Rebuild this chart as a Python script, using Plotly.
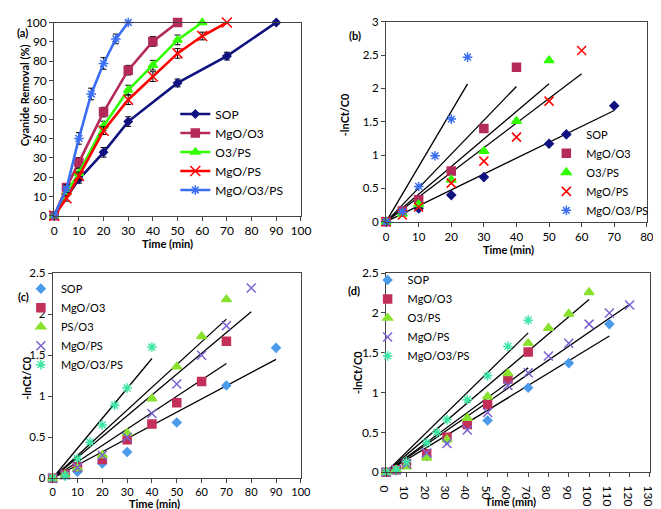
import plotly.graph_objects as go

W, H = 661, 509
def fx(p): return p / W
def fy(p): return 1 - p / H

names_ab = ["SOP", "MgO/O3", "O3/PS", "MgO/PS", "MgO/O3/PS"]
names_c = ["SOP", "MgO/O3", "PS/O3", "MgO/PS", "MgO/O3/PS"]
names_d = ["SOP", "MgO/O3", "O3/PS", "MgO/PS", "MgO/O3/PS"]

# ---- Panel (a): cyanide removal (%) ----
a_x = [
    [0, 10, 20, 30, 50, 70, 90],
    [0, 5, 10, 20, 30, 40, 50],
    [0, 5, 10, 20, 30, 40, 50, 60],
    [0, 5, 10, 20, 30, 40, 50, 60, 70],
    [0, 5, 10, 15, 20, 25, 30],
]
a_y = [
    [0, 18.8, 32.8, 48.7, 68.7, 82.6, 100],
    [0, 14.6, 27.6, 53.6, 75.3, 90.2, 100],
    [0, 12, 22, 46.4, 65.0, 77.9, 91, 100],
    [0, 9, 20.5, 44.0, 60.0, 72.0, 84, 93, 100],
    [0, 14, 40, 63.0, 78.8, 91.5, 100],
]
a_err = [
    [0, 2, 2.5, 2.5, 2, 2, 1],
    [0, 2, 2.5, 2.5, 2.5, 2.5, 0],
    [0, 2, 2.5, 2.5, 2.5, 2.5, 2.5, 0],
    [0, 1.5, 2, 2, 2.5, 2.5, 2.5, 2, 0],
    [0, 2, 3, 3, 3, 2.5, 0],
]

# ---- Panel (b) ----
b_x = [
    [0, 5, 10, 20, 30, 50, 70],
    [0, 5, 10, 20, 30, 40],
    [0, 5, 10, 20, 30, 40, 50],
    [0, 5, 10, 20, 30, 40, 50, 60],
    [0, 5, 10, 15, 20, 25],
]
b_y = [
    [0, 0.15, 0.2, 0.4, 0.67, 1.17, 1.74],
    [0, 0.16, 0.33, 0.76, 1.4, 2.32],
    [0, 0.12, 0.26, 0.63, 1.06, 1.51, 2.42],
    [0, 0.1, 0.22, 0.58, 0.91, 1.27, 1.81, 2.57],
    [0, 0.15, 0.53, 0.99, 1.54, 2.47],
]
b_fit_end_x = [70, 40, 50, 60, 25]
b_fit_end_y = [1.67, 2.03, 2.07, 2.22, 2.07]

# ---- Panel (c) ----
c_x = [
    [0, 5, 10, 20, 30, 50, 70, 90],
    [0, 5, 10, 20, 30, 40, 50, 60, 70],
    [0, 5, 10, 20, 30, 40, 50, 60, 70],
    [0, 5, 10, 20, 30, 40, 50, 60, 70, 80],
    [0, 5, 10, 15, 20, 25, 30, 40],
]
c_y = [
    [0, 0.03, 0.08, 0.18, 0.32, 0.68, 1.13, 1.59],
    [0, 0.05, 0.14, 0.23, 0.47, 0.66, 0.92, 1.18, 1.67],
    [0, 0.04, 0.12, 0.28, 0.55, 0.97, 1.36, 1.73, 2.18],
    [0, 0.04, 0.13, 0.28, 0.5, 0.79, 1.15, 1.5, 1.86, 2.32],
    [0, 0.03, 0.24, 0.44, 0.65, 0.89, 1.1, 1.6],
]
c_fit_end_x = [90, 70, 70, 80, 40]
c_fit_end_y = [1.45, 1.40, 1.94, 2.03, 1.46]

# ---- Panel (d) ----
d_x = [
    [0, 5, 10, 20, 30, 40, 50, 70, 90, 110],
    [0, 5, 10, 20, 30, 40, 50, 60, 70],
    [0, 5, 10, 20, 30, 40, 50, 60, 70, 80, 90, 100],
    [0, 5, 10, 20, 30, 40, 50, 60, 70, 80, 90, 100, 110, 120],
    [0, 5, 10, 20, 25, 30, 40, 50, 60, 70],
]
d_y = [
    [0, 0.02, 0.1, 0.2, 0.4, 0.62, 0.65, 1.06, 1.37, 1.86],
    [0, 0.03, 0.11, 0.23, 0.44, 0.6, 0.85, 1.17, 1.51],
    [0, 0.03, 0.07, 0.18, 0.41, 0.68, 0.95, 1.24, 1.62, 1.81, 1.99, 2.26],
    [0, 0.03, 0.1, 0.24, 0.36, 0.53, 0.75, 1.09, 1.25, 1.46, 1.62, 1.86, 2.0, 2.1],
    [0, 0.03, 0.13, 0.37, 0.5, 0.66, 0.91, 1.21, 1.58, 1.91],
]
d_fit_end_x = [110, 70, 100, 120, 70]
d_fit_end_y = [1.71, 1.31, 2.17, 2.11, 1.75]

col_ab = ["#10127F", "#B42A5B", "#33FF00", "#FF0000", "#3A6EF2"]
col_cd = ["#4B9BEA", "#C2305A", "#88E22E", "#7B62D0", "#3EE6A4"]
sym_a = ["diamond", "square", "triangle-up", "x-thin-open", "asterisk-open"]
size_a = [6, 8, 8, 10, 8]
sym_pts = ["diamond", "square", "triangle-up", "x-thin-open", "asterisk-open"]
size_pts = [6.5, 8, 8.5, 9, 8]

FONT = "Lato"
fig = go.Figure()

for i in range(5):
    fig.add_trace(go.Scatter(
        x=a_x[i], y=a_y[i], mode="lines+markers", name=names_ab[i],
        line=dict(color=col_ab[i], width=2.6),
        marker=dict(symbol=sym_a[i], size=size_a[i], color=col_ab[i],
                    line=dict(color=col_ab[i], width=1.5)),
        error_y=dict(type="data", array=a_err[i], visible=True, color="black",
                     thickness=1, width=3),
        xaxis="x", yaxis="y", legend="legend", cliponaxis=False))

def add_points(xs, ys, names, cols, xa, ya, leg):
    for i in range(5):
        fig.add_trace(go.Scatter(
            x=xs[i], y=ys[i], mode="markers", name=names[i],
            marker=dict(symbol=sym_pts[i], size=size_pts[i], color=cols[i],
                        line=dict(color=cols[i], width=1.5)),
            xaxis=xa, yaxis=ya, legend=leg, cliponaxis=False))

def add_fits(ex, ey, xa, ya):
    for i in range(5):
        fig.add_trace(go.Scatter(
            x=[0, ex[i]], y=[0, ey[i]], mode="lines",
            line=dict(color="black", width=1.3), showlegend=False,
            hoverinfo="skip", xaxis=xa, yaxis=ya))

add_fits(b_fit_end_x, b_fit_end_y, "x2", "y2")
add_points(b_x, b_y, names_ab, col_ab, "x2", "y2", "legend2")
add_fits(c_fit_end_x, c_fit_end_y, "x3", "y3")
add_points(c_x, c_y, names_c, col_cd, "x3", "y3", "legend3")
add_fits(d_fit_end_x, d_fit_end_y, "x4", "y4")
add_points(d_x, d_y, names_d, col_cd, "x4", "y4", "legend4")

def ax(dom, rng, dtick, anchor, fs=12):
    return dict(domain=dom, range=rng, dtick=dtick, anchor=anchor,
                showgrid=False, zeroline=False, showline=True, linecolor="#444",
                linewidth=1, mirror=True, ticks="outside", ticklen=4,
                tickcolor="#444", tickfont=dict(family=FONT, size=fs, color="black"))

doms = {
    "a": ([38.3, 292.3], [6.7, 205.7]),
    "b": ([380, 648.5], [6, 212]),
    "c": ([36.7, 292.3], [265, 476.3]),
    "d": ([380, 651.7], [265, 470]),
}
def xd(k): return [fx(doms[k][0][0]), fx(doms[k][0][1])]
def yd(k): return [fy(doms[k][1][1]), fy(doms[k][1][0])]

def leg(x, y, size=11):
    return dict(x=fx(x), y=fy(y), xanchor="left", yanchor="top",
                font=dict(family=FONT, size=size, color="black"),
                bgcolor="rgba(0,0,0,0)", itemwidth=30, tracegroupgap=0)

fig.update_layout(
    width=W, height=H, margin=dict(l=0, r=0, t=0, b=0),
    paper_bgcolor="white", plot_bgcolor="white",
    font=dict(family=FONT, size=11, color="black"),
    xaxis=ax(xd("a"), [0, 100], 10, "y"),
    yaxis=ax(yd("a"), [0, 100], 10, "x"),
    xaxis2=ax(xd("b"), [0, 80], 10, "y2", 11.5),
    yaxis2=ax(yd("b"), [0, 3], 0.5, "x2", 11.5),
    xaxis3=ax(xd("c"), [0, 100], 10, "y3", 11),
    yaxis3=ax(yd("c"), [0, 2.5], 0.5, "x3", 11.5),
    xaxis4=ax(xd("d"), [0, 130], 10, "y4"),
    yaxis4=ax(yd("d"), [0, 2.5], 0.5, "x4"),
    legend=leg(163, 86, 12),
    legend2=leg(545, 107),
    legend3=leg(4, 266),
    legend4=leg(361, 257),
    showlegend=True,
)

ann = [
    ("(a)", 6, 17, 0), ("(b)", 348, 20, 0), ("(c)", 7, 289, 0), ("(d)", 347, 283, 0),
    ("Time (min)", 155, 234, 0), ("Time (min)", 506, 241, 0),
    ("Time (min)", 142, 502, 0), ("Time (min)", 508, 500, 0),
    ("Cyanide Removal (%)", 8, 82, -90), ("-lnCt/C0", 338, 102, -90),
    ("-lnCt/C0", 9, 373, -90), ("-lnCt/C0", 350, 367, -90),
]
for t, x, y, rot in ann:
    fig.add_annotation(text="<b>%s</b>" % t, x=fx(x), y=fy(y), xref="paper", yref="paper",
                       showarrow=False, textangle=rot, xanchor="center", yanchor="middle",
                       font=dict(family=FONT, size=11, color="black"))

fig.write_html("out.html")
